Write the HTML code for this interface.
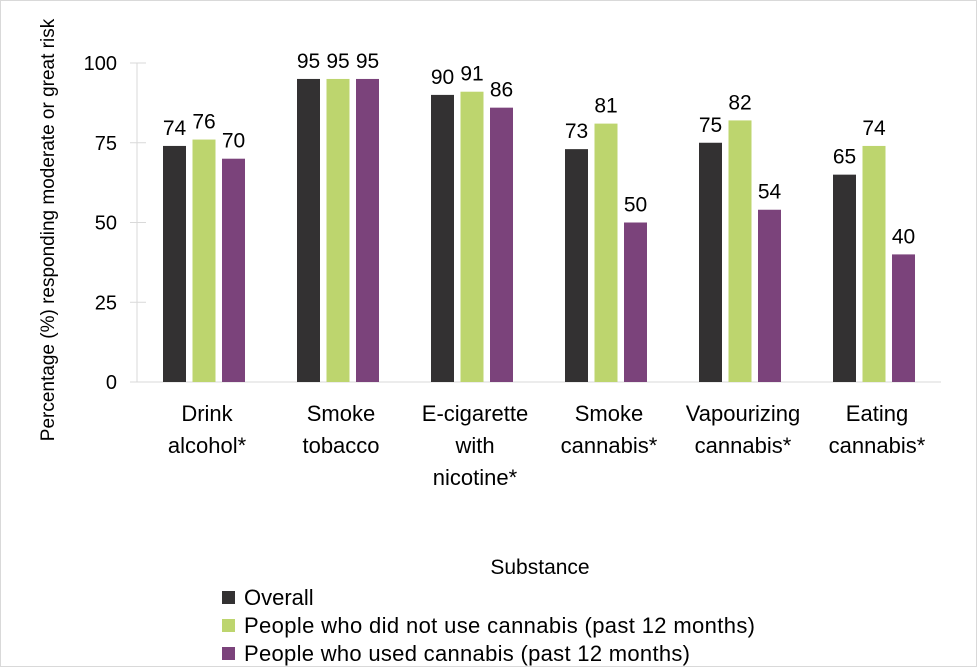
<!DOCTYPE html>
<html><head><meta charset="utf-8"><style>
body{margin:0;background:#fff}
svg{display:block;font-family:"Liberation Sans",sans-serif}
</style></head><body>
<svg width="977" height="667">
<rect x="0.5" y="0.5" width="976" height="666" fill="#fff" stroke="#d9d9d9"/>
<g id="axes"></g><g id="bars"></g>
<text x="540" y="574" font-size="21" text-anchor="middle" fill="#000">Substance</text>
<text transform="translate(54,230) rotate(-90)" font-size="19" text-anchor="middle" fill="#000">Percentage (%) responding moderate or great risk</text>
<g font-size="22">
<rect x="222" y="591" width="13" height="13" fill="#333132"/>
<text x="244" y="605">Overall</text>
<rect x="222" y="619" width="13" height="13" fill="#bdd56e"/>
<text x="244" y="633" textLength="511">People who did not use cannabis (past 12 months)</text>
<rect x="222" y="647" width="13" height="13" fill="#7b437b"/>
<text x="244" y="661" textLength="446">People who used cannabis (past 12 months)</text>
</g>
</svg>
<script>
const categories=[["Drink","alcohol*"],["Smoke","tobacco"],["E-cigarette","with","nicotine*"],["Smoke","cannabis*"],["Vapourizing","cannabis*"],["Eating","cannabis*"]];
const overall=[74,95,90,73,75,65];
const nonUsers=[76,95,91,81,82,74];
const users=[70,95,86,50,54,40];
const yTicks=[0,25,50,75,100];
const NS="http://www.w3.org/2000/svg";
const x0=137,groupW=134,y0=382,yTop=63,barW=23,pitch=29.5;
const y=v=>y0-(v/100)*(y0-yTop);
function mk(tag,attrs,parent){const e=document.createElementNS(NS,tag);for(const k in attrs)e.setAttribute(k,attrs[k]);parent.appendChild(e);return e;}
const axes=document.getElementById('axes'),bars=document.getElementById('bars');
const ya=mk('line',{x1:x0,x2:x0,y1:yTop,y2:y0,stroke:'#d9d9d9'},axes);


yTicks.forEach(t=>{
 const l=mk('line',{x1:130,x2:x0+9,y1:y(t),y2:y(t),stroke:'#d9d9d9'},axes);
 
 
 const tx=mk('text',{x:117,y:y(t)+7,'font-size':20,'text-anchor':'end'},axes);
 tx.textContent=t;
 
 
});
const xa=mk('line',{x1:130,x2:x0+groupW*categories.length,y1:y0,y2:y0,stroke:'#d9d9d9'},axes);


const series=[[overall,'#333132','overall'],[nonUsers,'#bdd56e','non-users'],[users,'#7b437b','users']];
categories.forEach((c,i)=>{
 const cx=x0+groupW*(i+0.5);
 c.forEach((line,j)=>{
  const t=mk('text',{x:cx+3,y:421+j*32,'font-size':22,'text-anchor':'middle'},axes);
  t.textContent=line;
  
  
 });
 series.forEach(([vals,col,nm],s)=>{
  const bx=cx+(s-1)*pitch-barW/2;
  const r=mk('rect',{x:bx,y:y(vals[i]),width:barW,height:y0-y(vals[i]),fill:col},bars);
  
  
  const t=mk('text',{x:bx+barW/2,y:y(vals[i])-11,'font-size':21,'text-anchor':'middle'},bars);
  t.textContent=vals[i];
  
  
 });
});
</script>
</body></html>
